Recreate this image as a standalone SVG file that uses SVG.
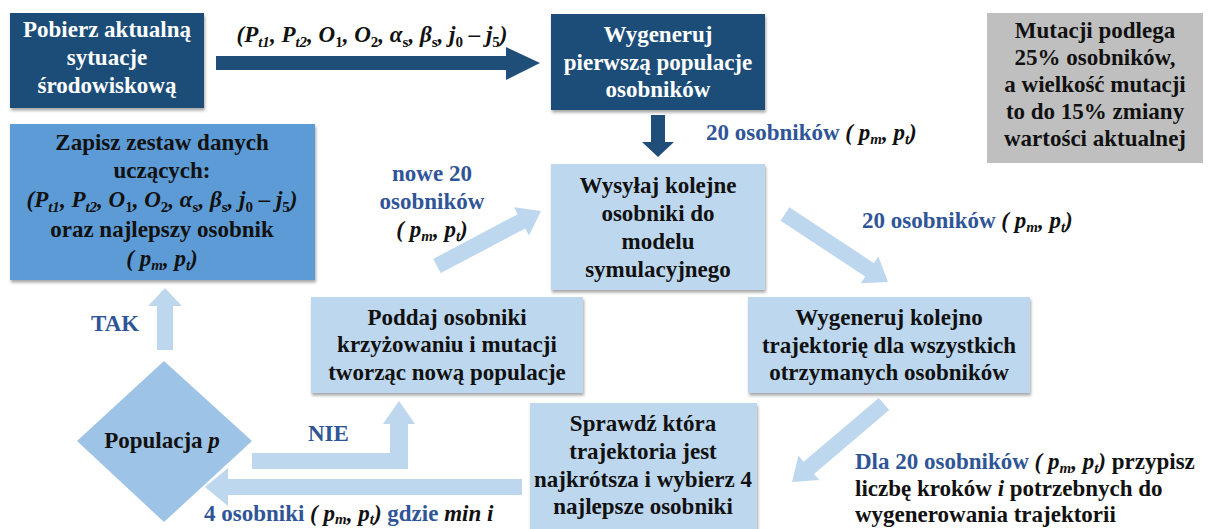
<svg xmlns="http://www.w3.org/2000/svg" width="1223" height="529" viewBox="0 0 1223 529" font-family="'Liberation Serif', 'Times New Roman', serif" font-weight="bold" font-size="23">
  <defs>
    <filter id="shadow" x="-5%" y="-5%" width="112%" height="120%">
      <feDropShadow dx="1" dy="2.5" stdDeviation="1.5" flood-color="#000" flood-opacity="0.35"/>
    </filter>
  </defs>
  <style>
    .c { text-anchor: middle; }
    .w { fill: #ffffff; }
    .k { fill: #111111; }
    .b { fill: #2F5597; }
    .i { font-style: italic; }
    .s { font-size: 15px; }
    .u { font-style: normal; }
    .dark { fill: #1F4E79; }
    .mid { fill: #5B9BD5; }
    .light { fill: #BDD7EE; }
    .dia { fill: #9DC3E6; }
    .grey { fill: #BFBFBF; }
    .arrD { fill: #1F4E79; }
    .arrL { fill: #BDD7EE; }
  </style>

  <!-- connectors -->
  <g id="connectors">
    <!-- start box to first population -->
    <polygon class="arrD" points="216,56 506,56 506,47 540,63 506,80 506,70 216,70"/>
    <!-- first population down to simulation -->
    <polygon class="arrD" points="651,115 665,115 665,142 674,142 658,157 642,142 651,142"/>
    <!-- simulation to trajectory generation -->
    <polygon class="arrL" points="789.4,207.3 874.0,263.2 878.4,256.5 888,282 860.8,283.3 865.2,276.6 780.6,220.7"/>
    <!-- trajectory generation to selection -->
    <polygon class="arrL" points="889.2,410.1 814.0,473.9 819.2,480.0 792,482 798.4,455.6 803.6,461.7 878.8,397.9"/>
    <!-- selection back to decision -->
    <polygon class="arrL" points="522,479 228,479 228,468 205,487 228,506 228,495 522,495"/>
    <!-- decision: NIE -->
    <polygon class="arrL" points="252,453 390,453 390,424 383,424 399,401 415,424 408,424 408,469 252,469"/>
    <!-- decision: TAK -->
    <polygon class="arrL" points="157,350 157,306 148,306 165,288 182,306 173,306 173,350"/>
    <!-- new population to simulation -->
    <polygon class="arrL" points="433.3,258.9 517.8,214.2 514.1,207.2 541,211 529.0,235.4 525.3,228.4 440.7,273.1"/>

    <!-- connector labels -->
    <text class="k i c" x="372" y="42">(P<tspan class="s" dy="5">t1</tspan><tspan dy="-5">, P</tspan><tspan class="s" dy="5">t2</tspan><tspan dy="-5">, O</tspan><tspan class="s u" dy="5">1</tspan><tspan dy="-5">, O</tspan><tspan class="s u" dy="5">2</tspan><tspan dy="-5">, α</tspan><tspan class="s u" dy="5">s</tspan><tspan dy="-5">, β</tspan><tspan class="s u" dy="5">s</tspan><tspan dy="-5">, j</tspan><tspan class="s u" dy="5">0</tspan><tspan dy="-5"> – j</tspan><tspan class="s u" dy="5">5</tspan><tspan dy="-5">)</tspan></text>

    <text x="706" y="140"><tspan class="b">20 osobników</tspan><tspan class="k i"> ( p</tspan><tspan class="k i s" dy="4">m</tspan><tspan class="k i" dy="-4">, p</tspan><tspan class="k i s" dy="4">t</tspan><tspan class="k i" dy="-4">)</tspan></text>

    <text x="862" y="228"><tspan class="b">20 osobników</tspan><tspan class="k i"> ( p</tspan><tspan class="k i s" dy="4">m</tspan><tspan class="k i" dy="-4">, p</tspan><tspan class="k i s" dy="4">t</tspan><tspan class="k i" dy="-4">)</tspan></text>

    <text class="b c" x="432" y="181">nowe 20</text>
    <text class="b c" x="432" y="209">osobników</text>
    <text class="k i c" x="432" y="237">( p<tspan class="s" dy="4">m</tspan><tspan dy="-4">, p</tspan><tspan class="s" dy="4">t</tspan><tspan dy="-4">)</tspan></text>

    <text class="b" x="91" y="331">TAK</text>
    <text class="b" x="308" y="441">NIE</text>

    <text x="204" y="521"><tspan class="b">4 osobniki</tspan><tspan class="k i"> ( p</tspan><tspan class="k i s" dy="3">m</tspan><tspan class="k i" dy="-3">, p</tspan><tspan class="k i s" dy="3">t</tspan><tspan class="k i" dy="-3">)</tspan><tspan class="b"> gdzie </tspan><tspan class="k i">min i</tspan></text>

    <text x="855" y="469"><tspan class="b">Dla 20 osobników</tspan><tspan class="k i"> ( p</tspan><tspan class="k i s" dy="4">m</tspan><tspan class="k i" dy="-4">, p</tspan><tspan class="k i s" dy="4">t</tspan><tspan class="k i" dy="-4">)</tspan><tspan class="k"> przypisz</tspan></text>
    <text class="k" x="855" y="496">liczbę kroków <tspan class="i">i</tspan> potrzebnych do</text>
    <text class="k" x="855" y="522">wygenerowania trajektorii</text>
  </g>

  <!-- nodes -->
  <g id="n-pobierz">
    <rect class="dark" x="10" y="13" width="194" height="95" filter="url(#shadow)"/>
    <text class="w c" x="107" y="37">Pobierz aktualną</text>
    <text class="w c" x="107" y="65">sytuacje</text>
    <text class="w c" x="107" y="93">środowiskową</text>
  </g>

  <g id="n-pierwsza">
    <rect class="dark" x="551" y="14" width="214" height="96" filter="url(#shadow)"/>
    <text class="w c" x="658" y="42">Wygeneruj</text>
    <text class="w c" x="658" y="70">pierwszą populacje</text>
    <text class="w c" x="658" y="97">osobników</text>
  </g>

  <g id="n-mutacja">
    <rect class="grey" x="987" y="13" width="216" height="150"/>
    <text class="k c" x="1095" y="38">Mutacji podlega</text>
    <text class="k c" x="1095" y="65">25% osobników,</text>
    <text class="k c" x="1095" y="92">a wielkość mutacji</text>
    <text class="k c" x="1095" y="119">to do 15% zmiany</text>
    <text class="k c" x="1095" y="146">wartości aktualnej</text>
  </g>

  <g id="n-zapisz">
    <rect class="mid" x="10" y="124" width="305" height="156" filter="url(#shadow)"/>
    <text class="k c" x="162" y="150">Zapisz zestaw danych</text>
    <text class="k c" x="162" y="178">uczących:</text>
    <text class="k i c" x="162" y="207">(P<tspan class="s" dy="5">t1</tspan><tspan dy="-5">, P</tspan><tspan class="s" dy="5">t2</tspan><tspan dy="-5">, O</tspan><tspan class="s u" dy="5">1</tspan><tspan dy="-5">, O</tspan><tspan class="s u" dy="5">2</tspan><tspan dy="-5">, α</tspan><tspan class="s u" dy="5">s</tspan><tspan dy="-5">, β</tspan><tspan class="s u" dy="5">s</tspan><tspan dy="-5">, j</tspan><tspan class="s u" dy="5">0</tspan><tspan dy="-5"> – j</tspan><tspan class="s u" dy="5">5</tspan><tspan dy="-5">)</tspan></text>
    <text class="k c" x="162" y="237">oraz najlepszy osobnik</text>
    <text class="k i c" x="162" y="266">( p<tspan class="s" dy="4">m</tspan><tspan dy="-4">, p</tspan><tspan class="s" dy="4">t</tspan><tspan dy="-4">)</tspan></text>
  </g>

  <g id="n-wysylaj">
    <rect class="light" x="551" y="164" width="214" height="126" filter="url(#shadow)"/>
    <text class="k c" x="658" y="193">Wysyłaj kolejne</text>
    <text class="k c" x="658" y="221">osobniki do</text>
    <text class="k c" x="658" y="249">modelu</text>
    <text class="k c" x="658" y="277">symulacyjnego</text>
  </g>

  <g id="n-poddaj">
    <rect class="light" x="311" y="297" width="272" height="96" filter="url(#shadow)"/>
    <text class="k c" x="447" y="325">Poddaj osobniki</text>
    <text class="k c" x="447" y="352">krzyżowaniu i mutacji</text>
    <text class="k c" x="447" y="380">tworząc nową populacje</text>
  </g>

  <g id="n-trajektoria">
    <rect class="light" x="748" y="297" width="282" height="96" filter="url(#shadow)"/>
    <text class="k c" x="889" y="325">Wygeneruj kolejno</text>
    <text class="k c" x="889" y="353">trajektorię dla wszystkich</text>
    <text class="k c" x="889" y="380">otrzymanych osobników</text>
  </g>

  <g id="n-sprawdz">
    <rect class="light" x="530" y="403" width="227" height="126" filter="url(#shadow)"/>
    <text class="k c" x="643" y="431">Sprawdź która</text>
    <text class="k c" x="643" y="459">trajektoria jest</text>
    <text class="k c" x="643" y="487">najkrótsza i wybierz 4</text>
    <text class="k c" x="643" y="514">najlepsze osobniki</text>
  </g>

  <g id="n-populacja">
    <polygon class="dia" points="164,361 252,441 164,522 77,441"/>
    <text class="k c" x="162" y="448">Populacja <tspan class="i">p</tspan></text>
  </g>
</svg>
